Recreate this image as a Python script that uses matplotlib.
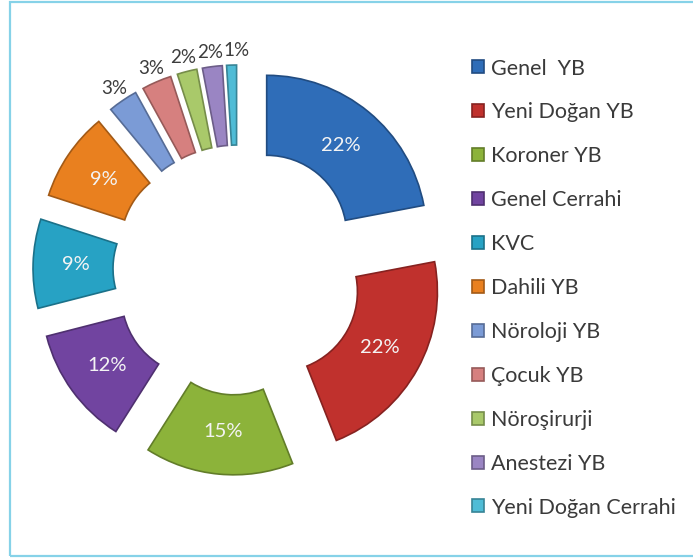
import matplotlib.pyplot as plt
import matplotlib.transforms as mtransforms
from matplotlib.patches import Rectangle
from matplotlib.colors import to_rgb

# Units and their share of the total (percent)
units = ["Genel  YB", "Yeni Doğan YB", "Koroner YB", "Genel Cerrahi", "KVC",
         "Dahili YB", "Nöroloji YB", "Çocuk YB", "Nöroşirurji", "Anestezi YB",
         "Yeni Doğan Cerrahi"]
shares = [22, 22, 15, 12, 9, 9, 3, 3, 2, 2, 1]
colors = ["#2f6db8", "#c0312d", "#8cb33a", "#7144a0", "#27a2c4", "#e9801f",
          "#7b9bd6", "#d6807f", "#a9c96a", "#9a85c3", "#4fbcd6"]

plt.rcParams["font.family"] = ["Lato", "DejaVu Sans"]

fig = plt.figure(figsize=(6.93, 5.58), dpi=100)
ax = fig.add_axes([0, 0, 1, 1])

# small slices get their label outside the ring, the big ones inside
outer_labels = [f"{v}%" if v < 5 else "" for v in shares]
wedges, texts, autotexts = ax.pie(
    shares, colors=colors, startangle=90, counterclock=False,
    center=(238, 288), radius=160, explode=[45] * len(shares),
    labels=outer_labels, labeldistance=1.09,
    autopct=lambda p: f"{p:.0f}%" if p >= 5 else "", pctdistance=0.73,
    wedgeprops=dict(width=80, linewidth=1.2),
    textprops=dict(fontsize=14.5, color="#3c3c3c"))

for w in wedges:
    r, g, b = to_rgb(w.get_facecolor())
    w.set_edgecolor((r * 0.7, g * 0.7, b * 0.7))
for t in texts:
    t.set_ha("center")
    t.set_va("center")
    t.set_fontsize(13.5)
for t in autotexts:
    t.set_color("#f4f4f4")
# the last outside label sits a little right so it clears its neighbour
texts[-1].set_transform(mtransforms.offset_copy(ax.transData, fig=fig, x=5, y=0,
                                                units="dots"))

ax.set_xlim(0, 693)
ax.set_ylim(0, 558)
ax.axis("off")

fig.legend(wedges, units, loc="upper left", bbox_to_anchor=(0.681, 0.895),
           frameon=False, fontsize=15.5, handlelength=0.55, handleheight=0.55,
           handletextpad=0.33, labelspacing=1.11, borderpad=0, borderaxespad=0,
           labelcolor="#3a3a3a")

# light blue frame around the chart
fig.patches.append(Rectangle((10 / 693, 2 / 558), 1.0, 554 / 558,
                             transform=fig.transFigure, fill=False,
                             edgecolor="#86d2e8", linewidth=1.6))

fig.savefig("out.png", dpi=100)
